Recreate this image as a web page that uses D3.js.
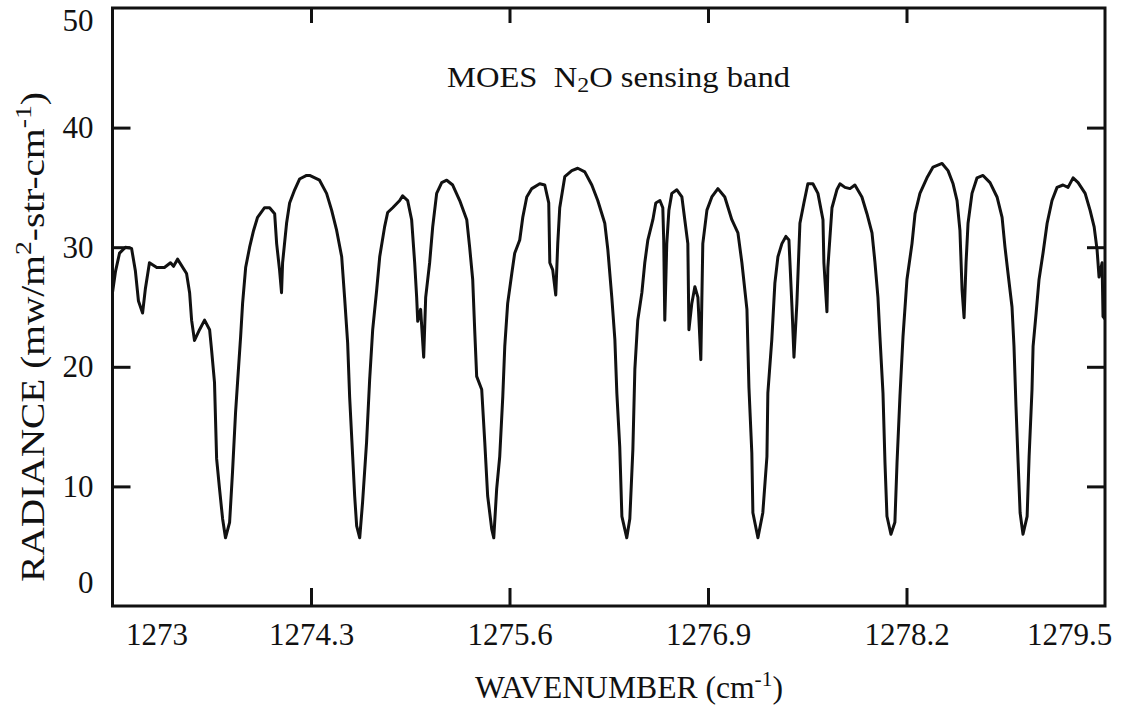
<!DOCTYPE html>
<html>
<head>
<meta charset="utf-8">
<script src="https://cdn.jsdelivr.net/npm/d3@7"></script>
<style>
  html, body { margin: 0; padding: 0; background: #fff; }
  svg { display: block; }
  text { font-family: "Liberation Serif", "Times New Roman", serif; fill: #111; }
</style>
</head>
<body>
<svg id="chart" width="1122" height="706"></svg>
<script>
// ---- data ----
const wavenumber = [
  1273.000, 1273.020, 1273.046, 1273.085, 1273.125, 1273.150, 1273.170, 1273.197, 1273.215, 1273.242,
  1273.290, 1273.340, 1273.380, 1273.400, 1273.426, 1273.485, 1273.505, 1273.518, 1273.537, 1273.570,
  1273.603, 1273.636, 1273.649, 1273.668, 1273.682, 1273.701, 1273.721, 1273.740, 1273.767, 1273.786,
  1273.806, 1273.819, 1273.839, 1273.852, 1273.872, 1273.898, 1273.924, 1273.950, 1273.996, 1274.029,
  1274.062, 1274.075, 1274.094, 1274.107, 1274.114, 1274.140, 1274.160, 1274.193, 1274.225, 1274.271,
  1274.291, 1274.356, 1274.402, 1274.435, 1274.468, 1274.501, 1274.520, 1274.540, 1274.553, 1274.573,
  1274.586, 1274.599, 1274.619, 1274.638, 1274.664, 1274.684, 1274.704, 1274.730, 1274.750, 1274.782,
  1274.802, 1274.835, 1274.881, 1274.900, 1274.933, 1274.959, 1274.979, 1274.992, 1274.999, 1275.018,
  1275.038, 1275.051, 1275.077, 1275.097, 1275.123, 1275.156, 1275.189, 1275.228, 1275.274, 1275.320,
  1275.339, 1275.359, 1275.372, 1275.385, 1275.418, 1275.438, 1275.457, 1275.484, 1275.497, 1275.516,
  1275.536, 1275.556, 1275.569, 1275.588, 1275.615, 1275.634, 1275.667, 1275.687, 1275.713, 1275.746,
  1275.798, 1275.831, 1275.857, 1275.864, 1275.883, 1275.903, 1275.916, 1275.929, 1275.962, 1276.008,
  1276.047, 1276.093, 1276.139, 1276.178, 1276.224, 1276.244, 1276.270, 1276.290, 1276.303, 1276.322,
  1276.336, 1276.368, 1276.388, 1276.408, 1276.421, 1276.440, 1276.467, 1276.486, 1276.506, 1276.539,
  1276.558, 1276.585, 1276.604, 1276.610, 1276.617, 1276.630, 1276.644, 1276.663, 1276.696, 1276.729,
  1276.748, 1276.768, 1276.775, 1276.794, 1276.814, 1276.834, 1276.853, 1276.866, 1276.893, 1276.925,
  1276.965, 1277.010, 1277.056, 1277.096, 1277.122, 1277.155, 1277.168, 1277.187, 1277.194, 1277.227,
  1277.259, 1277.286, 1277.292, 1277.318, 1277.338, 1277.358, 1277.384, 1277.410, 1277.430, 1277.450,
  1277.463, 1277.482, 1277.502, 1277.528, 1277.554, 1277.587, 1277.620, 1277.653, 1277.659, 1277.679,
  1277.685, 1277.712, 1277.744, 1277.764, 1277.797, 1277.830, 1277.862, 1277.908, 1277.941, 1277.974,
  1277.993, 1278.013, 1278.026, 1278.046, 1278.059, 1278.072, 1278.098, 1278.124, 1278.138, 1278.157,
  1278.177, 1278.203, 1278.236, 1278.256, 1278.288, 1278.334, 1278.374, 1278.433, 1278.472, 1278.505,
  1278.531, 1278.550, 1278.564, 1278.577, 1278.590, 1278.603, 1278.629, 1278.662, 1278.701, 1278.747,
  1278.793, 1278.826, 1278.845, 1278.865, 1278.891, 1278.904, 1278.917, 1278.931, 1278.944, 1278.963,
  1278.990, 1279.003, 1279.022, 1279.029, 1279.049, 1279.068, 1279.094, 1279.121, 1279.153, 1279.186,
  1279.225, 1279.258, 1279.291, 1279.324, 1279.370, 1279.402, 1279.429, 1279.448, 1279.461, 1279.481,
  1279.487, 1279.500
];
const radiance = [
  26.2, 28.0, 29.5, 30.0, 29.9, 28.0, 25.5, 24.5, 26.5, 28.7,
  28.3, 28.3, 28.7, 28.4, 29.0, 27.8, 26.2, 23.9, 22.2, 23.1,
  23.9, 23.1, 21.4, 18.7, 12.3, 9.8, 7.3, 5.7, 7.0, 11.2,
  16.2, 18.7, 22.5, 25.3, 28.3, 30.0, 31.4, 32.5, 33.3, 33.3,
  32.8, 30.3, 28.1, 26.2, 28.7, 32.0, 33.7, 34.8, 35.7, 36.0,
  36.0, 35.6, 34.5, 33.1, 31.4, 29.2, 25.8, 22.0, 17.5, 12.5,
  9.2, 6.7, 5.7, 8.7, 13.7, 18.9, 23.1, 26.4, 29.2, 31.7,
  32.9, 33.3, 33.9, 34.3, 33.9, 32.3, 28.7, 25.8, 23.8, 24.8,
  20.8, 25.8, 28.7, 31.7, 34.5, 35.4, 35.6, 35.2, 33.9, 32.3,
  30.0, 27.3, 23.1, 19.2, 18.1, 13.7, 9.2, 6.4, 5.7, 9.8,
  12.5, 17.5, 21.7, 25.3, 27.8, 29.5, 30.6, 32.5, 34.2, 34.9,
  35.3, 35.2, 33.7, 28.7, 28.1, 26.0, 30.3, 33.3, 35.9, 36.4,
  36.6, 36.3, 35.2, 33.9, 32.0, 29.8, 25.8, 22.3, 17.8, 13.3,
  7.5, 5.7, 7.3, 13.1, 19.8, 23.9, 26.2, 28.7, 30.6, 32.3,
  33.7, 33.9, 33.3, 30.6, 23.9, 30.3, 33.1, 34.5, 34.8, 34.2,
  32.3, 30.3, 23.1, 25.3, 26.7, 25.8, 20.6, 30.3, 33.1, 34.2,
  34.9, 34.2, 32.3, 31.2, 28.7, 24.8, 18.3, 12.8, 7.8, 5.7,
  7.8, 12.5, 17.8, 22.3, 27.0, 29.2, 30.3, 30.9, 30.6, 25.0,
  20.8, 25.3, 32.0, 33.7, 35.3, 35.3, 34.5, 32.3, 28.7, 24.6,
  28.3, 33.3, 34.8, 35.3, 35.0, 34.9, 35.2, 34.2, 32.8, 31.2,
  28.8, 25.8, 22.5, 17.8, 12.0, 7.5, 6.0, 7.0, 12.0, 17.5,
  22.5, 27.3, 30.3, 32.8, 34.5, 35.8, 36.7, 37.0, 36.4, 35.3,
  33.9, 31.4, 26.4, 24.1, 28.7, 32.0, 34.5, 35.8, 36.0, 35.4,
  34.2, 32.5, 30.0, 27.8, 25.0, 21.7, 16.7, 12.0, 7.8, 6.0,
  7.5, 12.5, 18.1, 21.7, 24.5, 27.3, 29.5, 32.0, 33.9, 35.0,
  35.2, 35.0, 35.8, 35.4, 34.5, 33.1, 31.7, 29.8, 27.5, 28.7,
  24.2, 24.0
];
const xTickValues = [1273, 1274.3, 1275.6, 1276.9, 1278.2, 1279.5];
const yTickValues = [0, 10, 20, 30, 40, 50];
const chartLabel = "MOES";
const xTitle = "WAVENUMBER";
const yTitle = "RADIANCE";

// ---- layout ----
const svg = d3.select("#chart");
const plotLeft = 112.5, plotRight = 1105, plotTop = 8, plotBottom = 606;
const serif = '"Liberation Serif", "Times New Roman", serif';

const x = d3.scaleLinear().domain([1273, 1279.5]).range([plotLeft, plotRight]);
const y = d3.scaleLinear().domain([0, 50]).range([plotBottom, plotTop]);

const points = wavenumber.map((w, i) => [w, radiance[i]]);

// spectrum line
svg.append("path")
  .datum(points)
  .attr("fill", "none")
  .attr("stroke", "#111")
  .attr("stroke-width", 3)
  .attr("stroke-linejoin", "round")
  .attr("d", d3.line().x(d => x(d[0])).y(d => y(d[1])).curve(d3.curveLinear));

// axes with inward ticks
const tickLen = 18;
const fs = 31;

const gL = svg.append("g").attr("transform", `translate(${plotLeft},0)`)
  .call(d3.axisLeft(y).tickValues(yTickValues).tickSize(-tickLen).tickPadding(19).tickFormat(d3.format("d")));
const gR = svg.append("g").attr("transform", `translate(${plotRight},0)`)
  .call(d3.axisRight(y).tickValues(yTickValues.slice(1, -1)).tickSize(-tickLen).tickFormat(""));
const gB = svg.append("g").attr("transform", `translate(0,${plotBottom})`)
  .call(d3.axisBottom(x).tickValues(xTickValues).tickSize(-tickLen).tickPadding(17).tickFormat(d => String(d)));
const gT = svg.append("g").attr("transform", `translate(0,${plotTop})`)
  .call(d3.axisTop(x).tickValues(xTickValues.slice(1, -1)).tickSize(-15).tickFormat(""));

[gL, gR, gB, gT].forEach(g => {
  g.attr("font-family", null);
  g.select(".domain").remove();
  g.selectAll(".tick line").attr("stroke", "#111").attr("stroke-width", 3);
  g.selectAll("text").style("font-family", serif)
    .attr("font-size", fs).attr("fill", "#111");
});
// end ticks coincide with the frame: hide their lines
gL.selectAll(".tick").filter(d => d === 0 || d === 50).select("line").remove();
gB.selectAll(".tick").filter(d => d === 1273 || d === 1279.5).select("line").remove();
// end labels are nudged inside the frame, as in the original
gL.selectAll(".tick").filter(d => d === 0).select("text").attr("dy", -14);
gL.selectAll(".tick").filter(d => d === 50).select("text").attr("dy", 22);
gB.selectAll(".tick").filter(d => d === 1273).select("text").attr("dx", 44);
gB.selectAll(".tick").filter(d => d === 1279.5).select("text").attr("dx", -36);

// frame
svg.append("rect")
  .attr("x", plotLeft).attr("y", plotTop)
  .attr("width", plotRight - plotLeft).attr("height", plotBottom - plotTop)
  .attr("fill", "none").attr("stroke", "#111").attr("stroke-width", 3);

// in-plot label
const lab = svg.append("text")
  .attr("x", 447).attr("y", 87)
  .attr("font-size", 30)
  .attr("textLength", 343).attr("lengthAdjust", "spacingAndGlyphs");
lab.append("tspan").text(chartLabel + "\u00a0\u00a0N");
lab.append("tspan").attr("font-size", 22).attr("dy", 5).text("2");
lab.append("tspan").attr("dy", -5).text("O sensing band");

// x title
const xt = svg.append("text")
  .attr("x", 475).attr("y", 698)
  .attr("font-size", 31)
  .attr("textLength", 308).attr("lengthAdjust", "spacingAndGlyphs");
xt.append("tspan").text(xTitle + " (cm");
xt.append("tspan").attr("font-size", 21).attr("dy", -12).text("-1");
xt.append("tspan").attr("dy", 12).text(")");

// y title
const yt = svg.append("text")
  .attr("transform", "translate(44,582) rotate(-90)")
  .attr("font-size", 34)
  .attr("textLength", 490).attr("lengthAdjust", "spacingAndGlyphs");
yt.append("tspan").text(yTitle + " (mw/m");
yt.append("tspan").attr("font-size", 24).attr("dy", -13).text("2");
yt.append("tspan").attr("dy", 13).text("-str-cm");
yt.append("tspan").attr("font-size", 24).attr("dy", -13).text("-1");
yt.append("tspan").attr("dy", 13).text(")");
</script>
</body>
</html>
